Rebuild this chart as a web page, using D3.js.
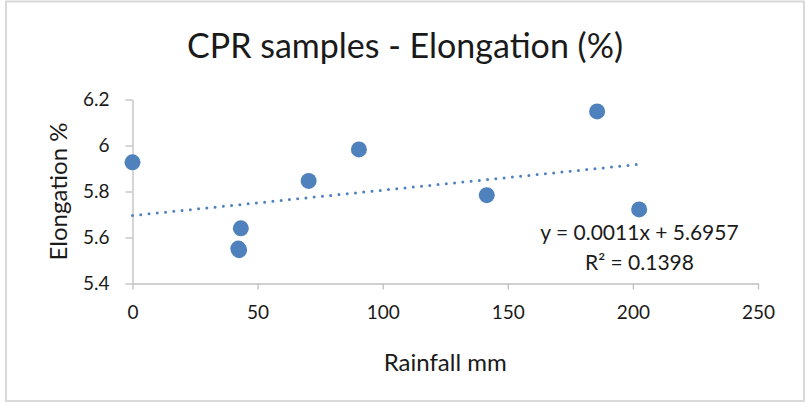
<!DOCTYPE html>
<html>
<head>
<meta charset="utf-8">
<script src="https://cdn.jsdelivr.net/npm/d3@7"></script>
<style>
  html, body { margin: 0; padding: 0; background: #ffffff; }
  svg text { font-family: Lato, "Open Sans", sans-serif; fill: #1a1a1a; }
</style>
</head>
<body>
<div id="chart"></div>
<script>
// Rainfall (mm) vs elongation (%) for the CPR samples
const rainfall   = [0,     42.3,  42.6,  43.3,  70.4,  90.5,  141.6, 185.7, 202.5];
const elongation = [5.927, 5.552, 5.545, 5.640, 5.846, 5.983, 5.784, 6.148, 5.722];

const xTicks = [0, 50, 100, 150, 200, 250];
const yTicks = [5.4, 5.6, 5.8, 6, 6.2];

// linear trend shown on the chart
const trendSlope = 0.0011;
const trendIntercept = 5.6957;
const trendLabels = ["y = 0.0011x + 5.6957", "R\u00b2 = 0.1398"];

const chartTitle = "CPR samples - Elongation (%)";
const xTitle = "Rainfall mm";
const yTitle = "Elongation %";

const W = 806, H = 405;
const margin = { top: 99.5, right: 48, bottom: 121.5, left: 132.5 };
const width = W - margin.left - margin.right;
const height = H - margin.top - margin.bottom;

const blue = "#4f81bd";
const axisGrey = "#bfbfbf";

const svg = d3.select("#chart").append("svg")
    .attr("width", W)
    .attr("height", H);

// chart frame
svg.append("rect")
    .attr("x", 6).attr("y", 1.5)
    .attr("width", 798).attr("height", 399.5)
    .attr("fill", "#ffffff")
    .attr("stroke", "#d9d9d9")
    .attr("stroke-width", 2);

svg.append("text")
    .attr("x", 405)
    .attr("y", 58)
    .attr("text-anchor", "middle")
    .style("font-size", "34px")
    .text(chartTitle);

const g = svg.append("g")
    .attr("transform", `translate(${margin.left},${margin.top})`);

const x = d3.scaleLinear().domain([0, 250]).range([0, width]);
const y = d3.scaleLinear().domain([5.4, 6.2]).range([height, 0]);

// X axis
const xAxis = g.append("g")
    .attr("transform", `translate(0,${height})`)
    .call(d3.axisBottom(x).tickValues(xTicks).tickSize(6).tickSizeOuter(0).tickPadding(16));
xAxis.selectAll("text").style("font-size", "19px");

// Y axis
const yAxis = g.append("g")
    .call(d3.axisLeft(y).tickValues(yTicks).tickSize(7).tickSizeOuter(0).tickPadding(16)
        .tickFormat(d => String(d)));
yAxis.selectAll("text").style("font-size", "19px");

g.selectAll(".domain, .tick line")
    .attr("stroke", axisGrey)
    .attr("stroke-width", 1.3);

// axis titles
g.append("text")
    .attr("x", width / 2)
    .attr("y", height + 87)
    .attr("text-anchor", "middle")
    .style("font-size", "24px")
    .text(xTitle);

g.append("text")
    .attr("transform", "rotate(-90)")
    .attr("x", -height / 2)
    .attr("y", -66)
    .attr("text-anchor", "middle")
    .style("font-size", "24px")
    .text(yTitle);

// trendline, from 0 to the largest rainfall
const xEnd = d3.max(rainfall);
g.append("path")
    .datum([0, xEnd])
    .attr("fill", "none")
    .attr("stroke", blue)
    .attr("stroke-width", 3)
    .attr("stroke-linecap", "round")
    .attr("stroke-dasharray", "0 8.3")
    .attr("d", d3.line()
        .x(d => x(d))
        .y(d => y(trendSlope * d + trendIntercept)));

// points
const pts = rainfall.map((r, i) => ({ r: r, e: elongation[i] }));
g.selectAll(".dot")
    .data(pts)
    .join("circle")
      .attr("class", "dot")
      .attr("cx", d => x(d.r))
      .attr("cy", d => y(d.e))
      .attr("r", 8)
      .attr("fill", blue);

// equation label
const eq = g.append("text")
    .attr("x", 507)
    .attr("y", 140)
    .attr("text-anchor", "middle")
    .style("font-size", "21px");
eq.append("tspan").attr("x", 507).text(trendLabels[0]);
eq.append("tspan").attr("x", 507).attr("dy", 30).text(trendLabels[1]);
</script>
</body>
</html>
